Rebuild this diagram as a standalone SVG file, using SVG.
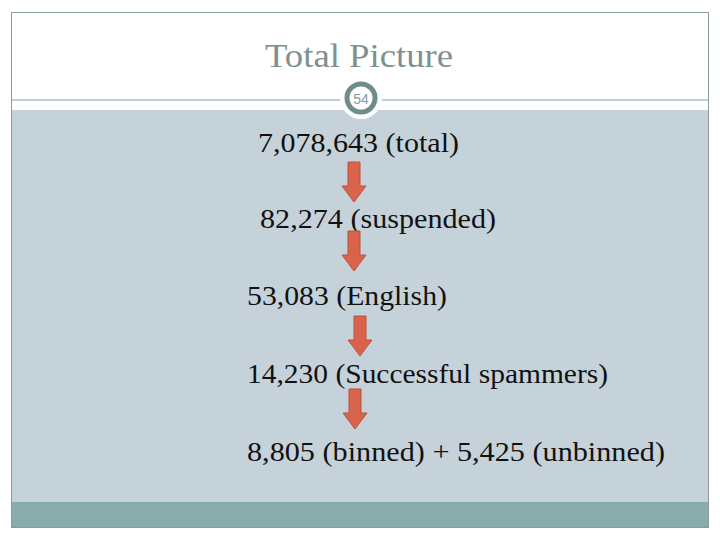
<svg xmlns="http://www.w3.org/2000/svg" width="720" height="540" viewBox="0 0 720 540">
<style>
.t{font-family:"Liberation Serif","DejaVu Serif",serif;font-size:27px;fill:#111}
.arr{fill:#d9634b;stroke:#b8543f;stroke-width:1}
</style>
<defs>
<path id="arrow" d="M-6,0 H6 V24 H12 L0,40 L-12,24 H-6 Z"/>
</defs>
<rect x="0" y="0" width="720" height="540" fill="#fff"/>
<rect x="12" y="110" width="696" height="392" fill="#c6d2d9"/>
<rect x="12" y="502" width="696" height="25" fill="#8aabab"/>
<rect x="11.5" y="12.5" width="697" height="515" fill="none" stroke="#8a9b9b" stroke-width="1"/>
<line x1="12" y1="100" x2="708" y2="100" stroke="#8a9b9b" stroke-width="1"/>
<g id="title"><text x="265" y="67" textLength="188" lengthAdjust="spacingAndGlyphs" style="font-family:'Liberation Serif','DejaVu Serif',serif;font-size:34px;fill:#7d9191">Total Picture</text></g>
<g id="pagenum">
<circle cx="361" cy="98" r="21" fill="#fff"/>
<circle cx="361" cy="98" r="14" fill="#fff" stroke="#6f8c8c" stroke-width="5"/>
<text x="361" y="104" text-anchor="middle" style="font-family:'Liberation Sans',sans-serif;font-size:14px;fill:#8a9a9a">54</text>
</g>
<g id="n1"><text class="t" x="258" y="152" textLength="201" lengthAdjust="spacingAndGlyphs">7,078,643 (total)</text></g>
<g id="n2"><text class="t" x="260" y="228" textLength="236" lengthAdjust="spacingAndGlyphs">82,274 (suspended)</text></g>
<g id="n3"><text class="t" x="247" y="305" textLength="200" lengthAdjust="spacingAndGlyphs">53,083 (English)</text></g>
<g id="n4"><text class="t" x="247" y="383" textLength="361" lengthAdjust="spacingAndGlyphs">14,230 (Successful spammers)</text></g>
<g id="n5"><text class="t" x="247" y="461" textLength="418" lengthAdjust="spacingAndGlyphs">8,805 (binned) + 5,425 (unbinned)</text></g>
<g id="connectors">
<use href="#arrow" class="arr" transform="translate(354,162)"/>
<use href="#arrow" class="arr" transform="translate(354,231)"/>
<use href="#arrow" class="arr" transform="translate(360,316)"/>
<use href="#arrow" class="arr" transform="translate(355,389)"/>
</g>
</svg>
